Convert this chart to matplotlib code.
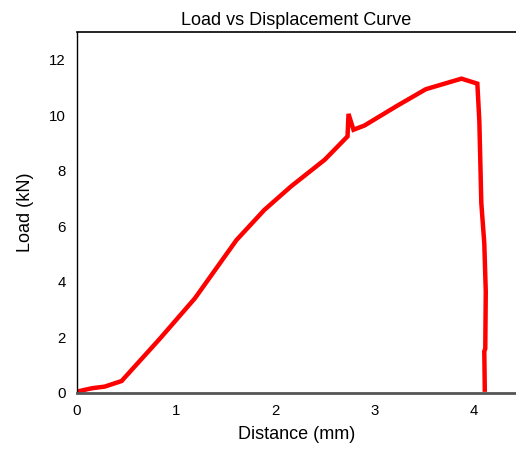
import numpy as np
import matplotlib.pyplot as plt

plt.rcParams["font.family"] = ["Liberation Sans", "DejaVu Sans"]

# DATA
distance = [0.0, 0.15, 0.28, 0.45, 0.84, 1.19, 1.61, 1.89, 2.16, 2.50, 2.73,
            2.74, 2.79, 2.90, 3.22, 3.52, 3.88, 4.04, 4.06, 4.08, 4.11,
            4.125, 4.12, 4.11, 4.115]
load = [0.05, 0.17, 0.23, 0.43, 1.97, 3.41, 5.51, 6.59, 7.44, 8.40, 9.24,
        10.05, 9.48, 9.63, 10.32, 10.94, 11.32, 11.14, 9.8, 6.84, 5.39,
        3.65, 1.6, 1.5, 0.12]

x_ticks = [0, 1, 2, 3, 4]
y_ticks = [0, 2, 4, 6, 8, 10, 12]

# PLOT
fig = plt.figure(figsize=(5.16, 4.5), dpi=100)
ax = fig.add_axes([0.1492, 0.1267, 0.8508, 0.8022])

ax.plot(distance, load, color="red", linewidth=3.2, solid_joinstyle="miter")

ax.set_xlim(0, 4.43)
ax.set_ylim(0, 13)
ax.set_xticks(x_ticks)
ax.set_yticks(y_ticks)
ax.tick_params(length=0, labelsize=10.8, pad=8)

ax.spines["right"].set_visible(False)
ax.spines["left"].set_color("black")
ax.spines["left"].set_linewidth(1.0)
ax.spines["top"].set_color("black")
ax.spines["top"].set_linewidth(1.2)
ax.spines["bottom"].set_color("#555555")
ax.spines["bottom"].set_linewidth(2.0)

ax.set_title("Load vs Displacement Curve", fontsize=13, pad=5)
ax.set_xlabel("Distance (mm)", fontsize=13, labelpad=6)
ax.set_ylabel("Load (kN)", fontsize=13, labelpad=11)

fig.savefig("out.png", dpi=100)
